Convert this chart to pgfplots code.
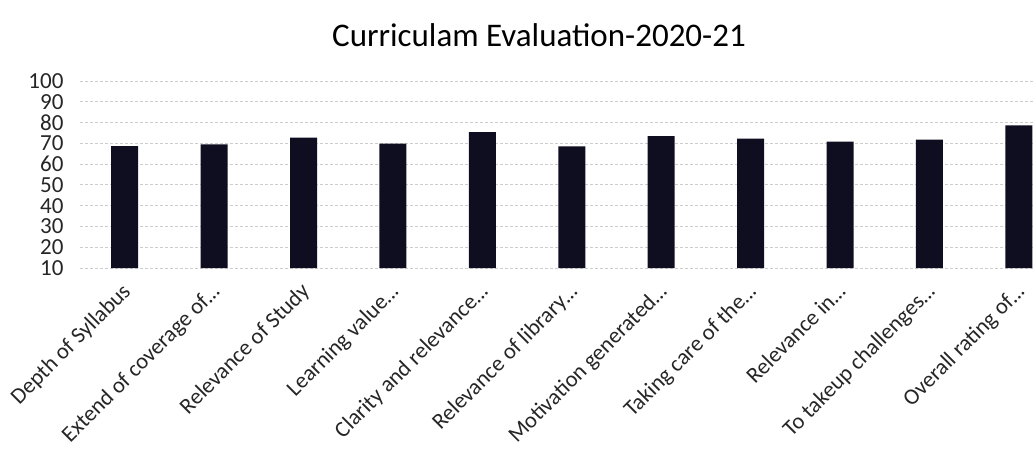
\documentclass[border=0pt]{standalone}
\usepackage{fontspec}
\setmainfont{Carlito}
\usepackage{pgfplots}
\pgfplotsset{compat=1.18}
\definecolor{barc}{RGB}{14,14,32}
\newcommand{\el}{\kern-0.5pt.\kern-0.5pt.\kern-0.5pt.}
\begin{document}
\begin{tikzpicture}[x=1pt,y=1pt]
\useasboundingbox (0,0) rectangle (1035,466);
\node[font=\fontsize{33}{38}\selectfont] at (539,431) {Curriculam Evaluation-2020-21};
\begin{axis}[
  at={(80pt,198pt)}, anchor=south west,
  scale only axis, width=955pt, height=187pt,
  xmin=-0.5, xmax=10.18, ymin=10, ymax=100,
  ytick={10,20,30,40,50,60,70,80,90,100},
  xtick={0,1,2,3,4,5,6,7,8,9,10},
  xticklabels={{Depth of Syllabus}, {Extend of coverage of\el}, {Relevance of Study}, {Learning value\el}, {Clarity and relevance\el}, {Relevance of library\el}, {Motivation generated\el}, {Taking care of the\el}, {Relevance in\el}, {To takeup challenges\el}, {Overall rating of\el}},
  xticklabel style={xshift=-4pt, rotate=45, anchor=north east, font=\fontsize{22.5}{26}\selectfont, inner sep=1pt, text=black!85},
  xticklabel shift=12pt,
  yticklabel style={font=\fontsize{23}{27}\selectfont, anchor=east, xshift=-13pt, text=black!85},
  /pgf/number format/assume math mode=true,
  major tick length=0pt,
  axis line style={draw=none},
  ymajorgrids, grid style={gray!40, densely dashed, line width=0.8pt},
  ybar, bar width=27pt,
  clip=true,
]
\addplot[fill=barc, draw=none] coordinates {
  (0,68.7) (1,69.5) (2,72.8) (3,69.9) (4,75.4) (5,68.5)
  (6,73.5) (7,72.3) (8,70.8) (9,71.8) (10,78.7)
};
\end{axis}
\end{tikzpicture}
\end{document}
